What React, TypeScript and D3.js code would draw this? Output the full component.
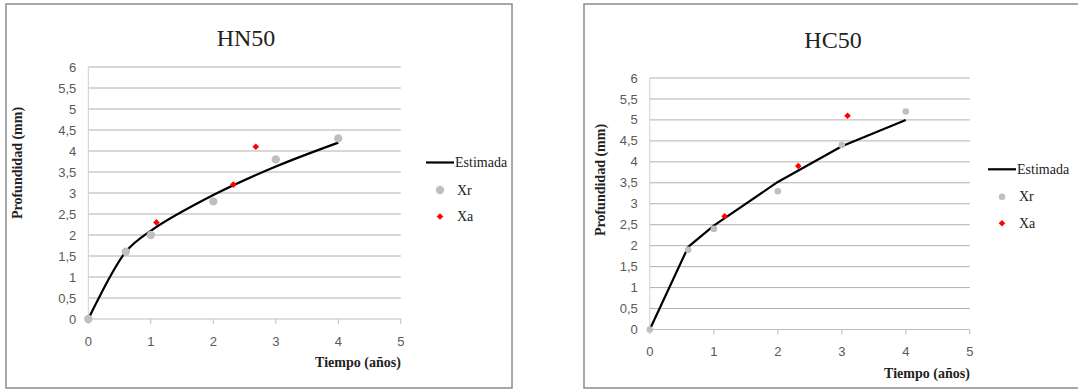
import React from "react";
import * as d3 from "d3";

// ---------- Data ----------
const xTicks = [0, 1, 2, 3, 4, 5];
const yTicks = [0, 0.5, 1, 1.5, 2, 2.5, 3, 3.5, 4, 4.5, 5, 5.5, 6];
const yTickLabels = ["0", "0,5", "1", "1,5", "2", "2,5", "3", "3,5", "4", "4,5", "5", "5,5", "6"];

// HN50
const hnEstX = [0, 0.6, 1, 2, 3, 4];
const hnEstY = [0, 1.6, 2.1, 2.95, 3.63, 4.2];
const hnXrX = [0, 0.6, 1, 2, 3, 4];
const hnXrY = [0, 1.6, 2.0, 2.8, 3.8, 4.3];
const hnXaX = [1.09, 2.32, 2.68];
const hnXaY = [2.3, 3.2, 4.1];

// HC50
const hcEstX = [0, 0.6, 1, 2, 3, 4];
const hcEstY = [0, 1.97, 2.48, 3.52, 4.37, 5.0];
const hcXrX = [0, 0.6, 1, 2, 3, 4];
const hcXrY = [0, 1.9, 2.4, 3.3, 4.4, 5.2];
const hcXaX = [1.17, 2.32, 3.09];
const hcXaY = [2.7, 3.9, 5.1];

const legendLabels = ["Estimada", "Xr", "Xa"];

type ChartProps = {
  title: string;
  frame: [number, number, number, number];
  px: [number, number];
  py: [number, number];
  titlePos: [number, number];
  yTitlePos: [number, number];
  legendPos: [number, number];
  estX: number[];
  estY: number[];
  xrX: number[];
  xrY: number[];
  xaX: number[];
  xaY: number[];
  smooth: boolean;
  xrR: number;
};

const sans = "'Liberation Sans', Arial, sans-serif";
const serif = "'Liberation Serif', 'Times New Roman', serif";

function Chart(p: ChartProps) {
  const x = d3.scaleLinear().domain([0, 5]).range(p.px);
  const y = d3.scaleLinear().domain([0, 6]).range(p.py);
  const estPts: [number, number][] = p.estX.map((v, i) => [v, p.estY[i]]);
  const line = d3
    .line<[number, number]>()
    .x((d) => x(d[0]))
    .y((d) => y(d[1]))
    .curve(p.smooth ? d3.curveCatmullRom.alpha(0.5) : d3.curveLinear);
  const diamond = (cx: number, cy: number, s: number) =>
    `M${cx},${cy - s}L${cx + s},${cy}L${cx},${cy + s}L${cx - s},${cy}Z`;
  const [fx, fy, fw, fh] = p.frame;
  const [lx, ly] = p.legendPos;
  return (
    <g>
      <rect x={fx} y={fy} width={fw} height={fh} fill="#fff" stroke="#8c8c8c" strokeWidth={1.5} />
      <text x={p.titlePos[0]} y={p.titlePos[1]} textAnchor="middle" fontFamily={serif} fontSize={24} fill="#222">
        {p.title}
      </text>
      {yTicks.map((t) =>
        t === 0 ? null : (
          <line key={"g" + t} x1={p.px[0]} x2={p.px[1]} y1={y(t)} y2={y(t)} stroke="#b0b0b0" strokeWidth={1} />
        )
      )}
      <line x1={p.px[0]} x2={p.px[0]} y1={p.py[0]} y2={p.py[1]} stroke="#cfcfcf" strokeWidth={1} />
      <line x1={p.px[0]} x2={p.px[1]} y1={p.py[0]} y2={p.py[0]} stroke="#bdbdbd" strokeWidth={1} />
      {xTicks.map((t) => (
        <line key={"xt" + t} x1={x(t)} x2={x(t)} y1={p.py[0]} y2={p.py[0] + 5} stroke="#bdbdbd" strokeWidth={1} />
      ))}
      {yTicks.map((t, i) => (
        <text key={"yl" + t} x={p.px[0] - 12} y={y(t)} dy="0.35em" textAnchor="end" fontFamily={sans} fontSize={13} fill="#595959">
          {yTickLabels[i]}
        </text>
      ))}
      {xTicks.map((t) => (
        <text key={"xl" + t} x={x(t)} y={p.py[0] + 22} dy="0.35em" textAnchor="middle" fontFamily={sans} fontSize={13} fill="#595959">
          {t}
        </text>
      ))}
      <text x={p.px[1]} y={p.py[0] + 48} textAnchor="end" fontFamily={serif} fontWeight="bold" fontSize={14} fill="#222">
        Tiempo (años)
      </text>
      <text
        transform={`translate(${p.yTitlePos[0]},${p.yTitlePos[1]}) rotate(-90)`}
        textAnchor="middle"
        dy="0.35em"
        fontFamily={serif}
        fontWeight="bold"
        fontSize={14}
        fill="#222"
      >
        Profundidad  (mm)
      </text>
      <path d={line(estPts) || ""} fill="none" stroke="#000" strokeWidth={2.2} strokeLinejoin="round" />
      {p.xrX.map((v, i) => (
        <circle key={"xr" + i} cx={x(v)} cy={y(p.xrY[i])} r={p.xrR} fill="#bfbfbf" />
      ))}
      {p.xaX.map((v, i) => (
        <path key={"xa" + i} d={diamond(x(v), y(p.xaY[i]), 3.3)} fill="#ff0000" />
      ))}
      {/* legend */}
      <line x1={lx} x2={lx + 28} y1={ly} y2={ly} stroke="#000" strokeWidth={2.2} />
      <text x={lx + 29} y={ly} dy="0.33em" fontFamily={serif} fontSize={14} fill="#222">
        {legendLabels[0]}
      </text>
      <circle cx={lx + 14} cy={ly + 27.5} r={p.xrR} fill="#bfbfbf" />
      <text x={lx + 31} y={ly + 27.5} dy="0.33em" fontFamily={serif} fontSize={14} fill="#222">
        {legendLabels[1]}
      </text>
      <path d={diamond(lx + 14, ly + 54, 3.3)} fill="#ff0000" />
      <text x={lx + 31} y={ly + 54} dy="0.33em" fontFamily={serif} fontSize={14} fill="#222">
        {legendLabels[2]}
      </text>
    </g>
  );
}

export default function App() {
  return (
    <svg width={1078} height={389} style={{ position: "absolute", left: 0, top: 0 }}>
      <rect x={0} y={0} width={1078} height={389} fill="#fff" />
      <Chart
        title="HN50"
        frame={[6, 4, 506, 384]}
        px={[88.3, 400.8]}
        py={[319, 67]}
        titlePos={[246, 46]}
        yTitlePos={[17, 163]}
        legendPos={[426, 162.5]}
        estX={hnEstX}
        estY={hnEstY}
        xrX={hnXrX}
        xrY={hnXrY}
        xaX={hnXaX}
        xaY={hnXaY}
        smooth={true}
        xrR={4.2}
      />
      <Chart
        title="HC50"
        frame={[584, 4, 520, 384]}
        px={[649.8, 969.8]}
        py={[329.5, 78]}
        titlePos={[833, 48]}
        yTitlePos={[600, 180]}
        legendPos={[988, 169.3]}
        estX={hcEstX}
        estY={hcEstY}
        xrX={hcXrX}
        xrY={hcXrY}
        xaX={hcXaX}
        xaY={hcXaY}
        smooth={false}
        xrR={3.3}
      />
    </svg>
  );
}
